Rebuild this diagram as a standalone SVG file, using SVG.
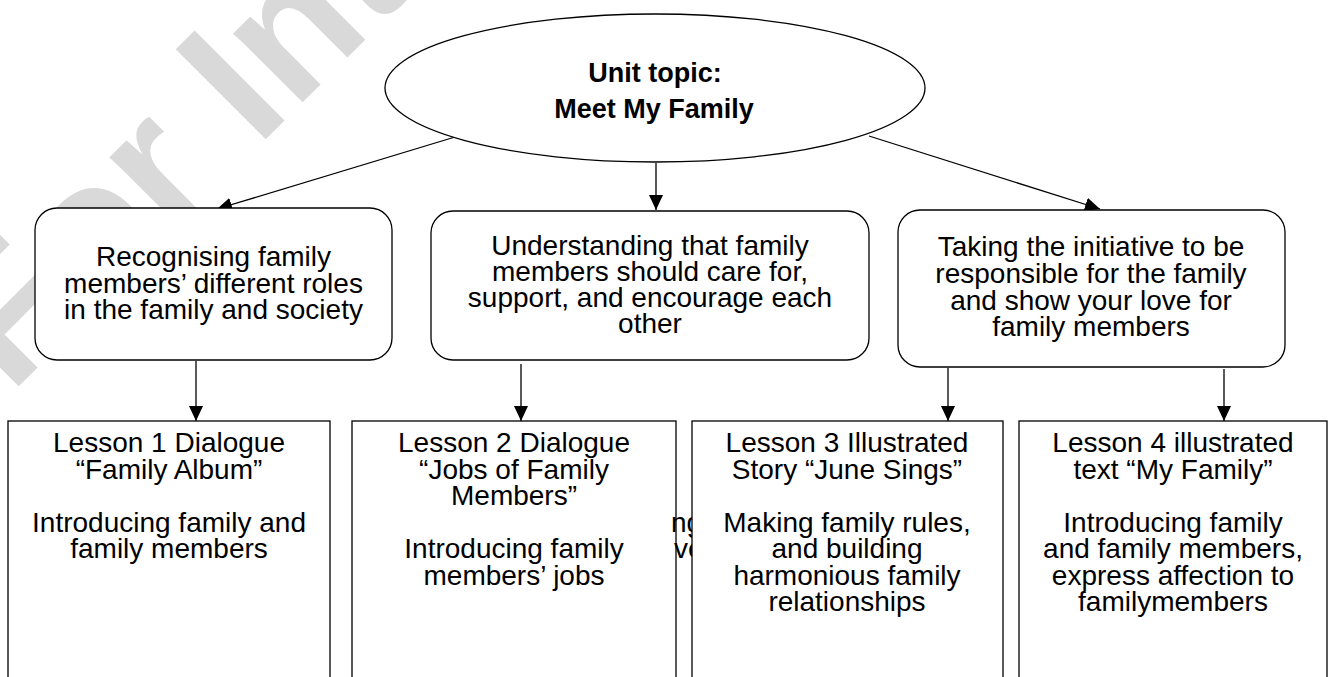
<svg xmlns="http://www.w3.org/2000/svg" width="1333" height="677" viewBox="0 0 1333 677">
<defs>
<style>
.bg{fill:#ffffff}
.wm{font-family:"Liberation Sans",Arial,sans-serif;font-weight:bold;font-size:185px;fill:#d9d9d9}
.shape{fill:#ffffff;stroke:#000000;stroke-width:1.3}
.t{font-family:"Liberation Sans",Arial,sans-serif;font-size:28px;fill:#000000;text-anchor:middle}
.tb{font-family:"Liberation Sans",Arial,sans-serif;font-size:27px;font-weight:bold;fill:#000000;text-anchor:middle}
.frag{font-family:"Liberation Sans",Arial,sans-serif;font-size:28px;fill:#000000}
.conn{fill:none;stroke:#000000;stroke-width:1.3;marker-end:url(#arrow)}
</style>
<marker id="arrow" markerUnits="userSpaceOnUse" viewBox="0 0 15 14" markerWidth="15" markerHeight="14" refX="15" refY="7" orient="auto">
<path d="M0,0 L15,7 L0,14 z" fill="#000000"/>
</marker>
</defs>
<rect class="bg" x="0" y="0" width="1333" height="677"/>
<g id="watermark">
<text class="wm" transform="translate(10,395) rotate(-45)">For Int</text>
</g>
<g id="connectors">
<line class="conn" x1="455" y1="137" x2="217" y2="209"/>
<line class="conn" x1="656" y1="163" x2="656" y2="210"/>
<line class="conn" x1="869" y1="136" x2="1100" y2="209"/>
<line class="conn" x1="196" y1="361" x2="196" y2="421"/>
<line class="conn" x1="521" y1="364" x2="521" y2="421"/>
<line class="conn" x1="948" y1="368" x2="948" y2="421"/>
<line class="conn" x1="1224" y1="369" x2="1224" y2="421"/>
</g>
<g id="topic">
<ellipse class="shape" cx="655" cy="88" rx="270" ry="74"/>
<text class="tb" x="655" y="82">Unit topic:</text>
<text class="tb" x="654" y="118">Meet My Family</text>
</g>
<g id="goal1">
<rect class="shape" x="35" y="208" width="357" height="152" rx="22" ry="22"/>
<text class="t" x="213.5" y="266">Recognising family</text>
<text class="t" x="213.5" y="292.5">members’ different roles</text>
<text class="t" x="213.5" y="319">in the family and society</text>
</g>
<g id="goal2">
<rect class="shape" x="431" y="211" width="438" height="149" rx="22" ry="22"/>
<text class="t" x="650" y="255">Understanding that family</text>
<text class="t" x="650" y="281">members should care for,</text>
<text class="t" x="650" y="307">support, and encourage each</text>
<text class="t" x="650" y="333">other</text>
</g>
<g id="goal3">
<rect class="shape" x="898" y="210" width="387" height="157" rx="22" ry="22"/>
<text class="t" x="1091" y="256">Taking the initiative to be</text>
<text class="t" x="1091" y="283">responsible for the family</text>
<text class="t" x="1091" y="310">and show your love for</text>
<text class="t" x="1091" y="336">family members</text>
</g>
<g id="lesson1">
<rect class="shape" x="8" y="421" width="322" height="280"/>
<text class="t" x="169" y="452">Lesson 1 Dialogue</text>
<text class="t" x="169" y="478.5">“Family Album”</text>
<text class="t" x="169" y="531.5">Introducing family and</text>
<text class="t" x="169" y="558">family members</text>
</g>
<g id="lesson2">
<rect class="shape" x="352" y="421" width="324" height="280"/>
<text class="t" x="514" y="452">Lesson 2 Dialogue</text>
<text class="t" x="514" y="478.5">“Jobs of Family</text>
<text class="t" x="514" y="505">Members”</text>
<text class="t" x="514" y="558">Introducing family</text>
<text class="t" x="514" y="584.5">members’ jobs</text>
</g>
<g id="hidden-fragment">
<text class="frag" x="671" y="531.5">ng</text>
<text class="frag" x="674" y="558">ve</text>
</g>
<g id="lesson3">
<rect class="shape" x="692" y="421" width="311" height="280"/>
<text class="t" x="847" y="452">Lesson 3 Illustrated</text>
<text class="t" x="847" y="478.5">Story “June Sings”</text>
<text class="t" x="847" y="531.5">Making family rules,</text>
<text class="t" x="847" y="558">and building</text>
<text class="t" x="847" y="584.5">harmonious family</text>
<text class="t" x="847" y="611">relationships</text>
</g>
<g id="lesson4">
<rect class="shape" x="1019" y="421" width="308" height="280"/>
<text class="t" x="1173" y="452">Lesson 4 illustrated</text>
<text class="t" x="1173" y="478.5">text “My Family”</text>
<text class="t" x="1173" y="531.5">Introducing family</text>
<text class="t" x="1173" y="558">and family members,</text>
<text class="t" x="1173" y="584.5">express affection to</text>
<text class="t" x="1173" y="611">familymembers</text>
</g>
</svg>
